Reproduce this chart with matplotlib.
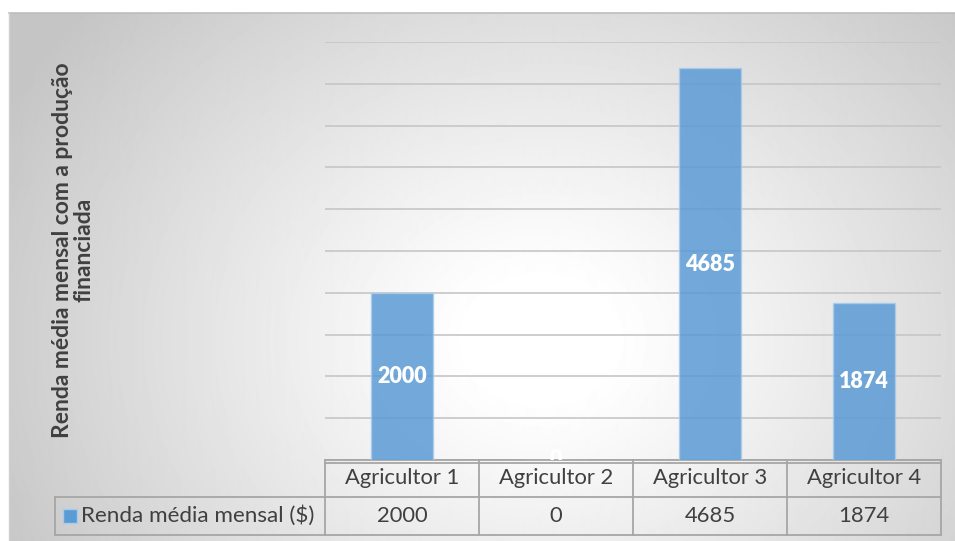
import numpy as np
import matplotlib
matplotlib.use("Agg")
import matplotlib.pyplot as plt

categories = ["Agricultor 1", "Agricultor 2", "Agricultor 3", "Agricultor 4"]
renda = [2000, 0, 4685, 1874]
series_name = "Renda média mensal ($)"
y_title = "Renda média mensal com a produção\nfinanciada"

plt.rcParams['font.family'] = ['Lato', 'DejaVu Sans']

W, H = 955, 541
fig = plt.figure(figsize=(W / 100, H / 100), dpi=100)

# chart area with a radial grey-to-white fill
bg = fig.add_axes([9 / W, 0, (W - 9) / W, (H - 13) / H])
yy, xx = np.mgrid[13:H, 9:W].astype(float)
d = np.hypot((xx - 540) / 1.15, (yy - 340) / 0.95)
t = np.clip((d - 60) / 470, 0, 1) ** 1.1
shade = 1 - 0.23 * t
bg.imshow(shade, cmap='gray', vmin=0, vmax=1, aspect='auto',
          extent=[9, W, H, 13], interpolation='bilinear')
bg.set_xlim(9, W)
bg.set_ylim(H, 13)
bg.axis('off')
fig.add_artist(plt.Line2D([9 / W, 1], [(H - 13) / H] * 2, color='#BDBDBD', lw=1.2))
fig.add_artist(plt.Line2D([9 / W] * 2, [0, (H - 13) / H], color='#D0D0D0', lw=1))

# plot area
ax = fig.add_axes([325 / W, (H - 460) / H, 616 / W, (460 - 42) / H])
ax.patch.set_alpha(0)
ax.set_xlim(-0.5, 3.5)
ax.set_ylim(0, 5000)
ax.set_yticks(np.arange(0, 5001, 500))
ax.yaxis.grid(True, color='#C6C6C6', lw=1.2)
ax.set_axisbelow(True)
ax.tick_params(left=False, bottom=False, labelleft=False, labelbottom=False)
ax.set_xticks([])
for s in ax.spines.values():
    s.set_visible(False)

x = np.arange(len(categories))
ax.bar(x, renda, width=0.4, color='#5B9BD5', alpha=0.85,
       edgecolor='#A9CBEB', lw=1, zorder=3)
for xi, v in zip(x, renda):
    ax.text(xi, v / 2, str(v), ha='center', va='center', color='white',
            fontsize=15.5, fontweight='heavy', zorder=4, clip_on=True)

# data table under the axis
tr = ax.get_xaxis_transform()


def px_x(p):
    return (p - 325) / 154 - 0.5


r1 = -37 / 418
r2 = -75 / 418
left = px_x(55)
line_kw = dict(color='#A6A6A6', lw=1.3, transform=tr, clip_on=False)
ax.plot([-0.5, 3.5], [0, 0], color='#A0A0A0', lw=1.2, transform=tr, clip_on=False)
ax.plot([-0.5, 3.5], [-2.5 / 418] * 2, color='#A0A0A0', lw=1.2, transform=tr, clip_on=False)
ax.plot([left, 3.5], [r1, r1], **line_kw)
ax.plot([left, 3.5], [r2, r2], **line_kw)
ax.plot([left, left], [r1, r2], **line_kw)
for b in np.arange(-0.5, 3.6, 1.0):
    ax.plot([b, b], [0, r2], **line_kw)

for xi, cat, v in zip(x, categories, renda):
    ax.text(xi, r1 / 2, cat, transform=tr, ha='center', va='center',
            fontsize=15.8, color='#404040')
    ax.text(xi, (r1 + r2) / 2, str(v), transform=tr, ha='center', va='center',
            fontsize=15.8, color='#404040')

ax.plot([px_x(70)], [(r1 + r2) / 2], marker='s', ms=9.5, color='#5B9BD5',
        mec='#A9CBEB', mew=1, transform=tr, clip_on=False)
ax.text(px_x(81), (r1 + r2) / 2, series_name, transform=tr, ha='left',
        va='center', fontsize=16.2, color='#404040')

fig.text(73 / W, (H - 250) / H, y_title, rotation=90, ha='center', va='center',
         multialignment='center', fontsize=16.5, fontweight='bold',
         color='#404040', linespacing=1.05)

fig.savefig('out.png', dpi=100)
